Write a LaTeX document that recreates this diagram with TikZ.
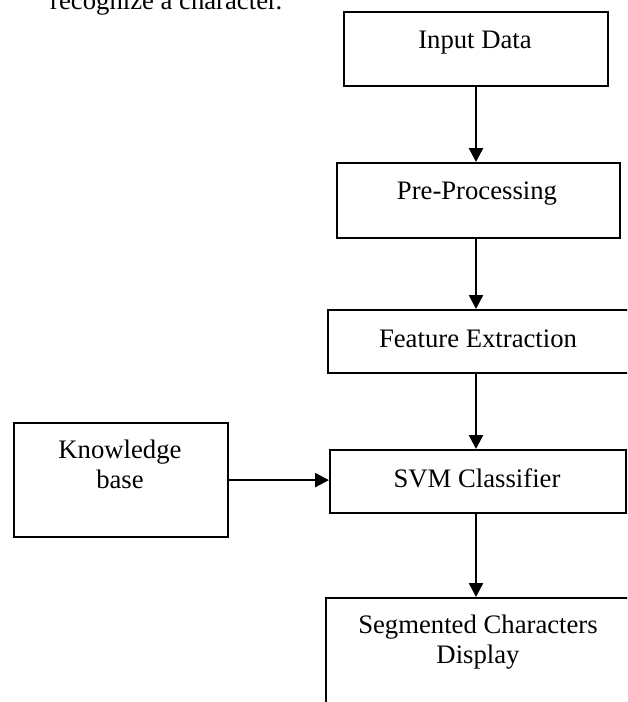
\documentclass[tikz,border=0pt]{standalone}
\usepackage{fontspec}
\setmainfont{Liberation Serif}
\usetikzlibrary{arrows.meta}
\begin{document}
\begin{tikzpicture}[x=1pt,y=-1pt,
  box/.style={draw=black,line width=2.2pt,rectangle,anchor=north west,inner sep=0pt},
  lbl/.style={font=\fontsize{26.7}{30}\selectfont,inner sep=0pt,anchor=base,align=center},
  flow/.style={draw=black,line width=2.5pt,-{Triangle[length=14pt,width=14pt]}}]
\useasboundingbox (0,0) rectangle (627,702);
\clip (0,0) rectangle (627,702);
% top text (cut off as in the reference)
\node[font=\fontsize{26.7}{30}\selectfont,inner sep=0pt,anchor=base west] (top) at (50,9.5) {recognize a character.};
% boxes
\node[box,minimum width=264pt,minimum height=74pt] (input) at (343,11) {};
\node[box,minimum width=283pt,minimum height=75pt] (pre) at (336,162) {};
\node[box,minimum width=301pt,minimum height=63pt] (feat) at (327,309) {};
\node[box,minimum width=296pt,minimum height=63pt] (svm) at (329,449) {};
\node[box,minimum width=214pt,minimum height=114pt] (kb) at (13,422) {};
\node[box,minimum width=320pt,minimum height=130pt] (seg) at (325,597) {};
% labels
\node[lbl] (tinput) at (475,48) {Input Data};
\node[lbl] (tpre) at (477,199) {Pre-Processing};
\node[lbl] (tfeat) at (478,347) {Feature Extraction};
\node[lbl] (tsvm) at (477,487) {SVM Classifier};
\node[lbl] (tkb) at (120,488) {Knowledge\\base};
\node[lbl] (tseg) at (478,663) {Segmented Characters\\Display};
% connectors
\coordinate (ax) at (476,0);
\draw[flow] (input.south -| ax) -- (pre.north -| ax);
\draw[flow] (pre.south -| ax) -- (feat.north -| ax);
\draw[flow] (feat.south -| ax) -- (svm.north -| ax);
\draw[flow] (svm.south -| ax) -- (seg.north -| ax);
\draw[flow] (kb.east) -- (kb.east -| svm.west);
\end{tikzpicture}
\end{document}
